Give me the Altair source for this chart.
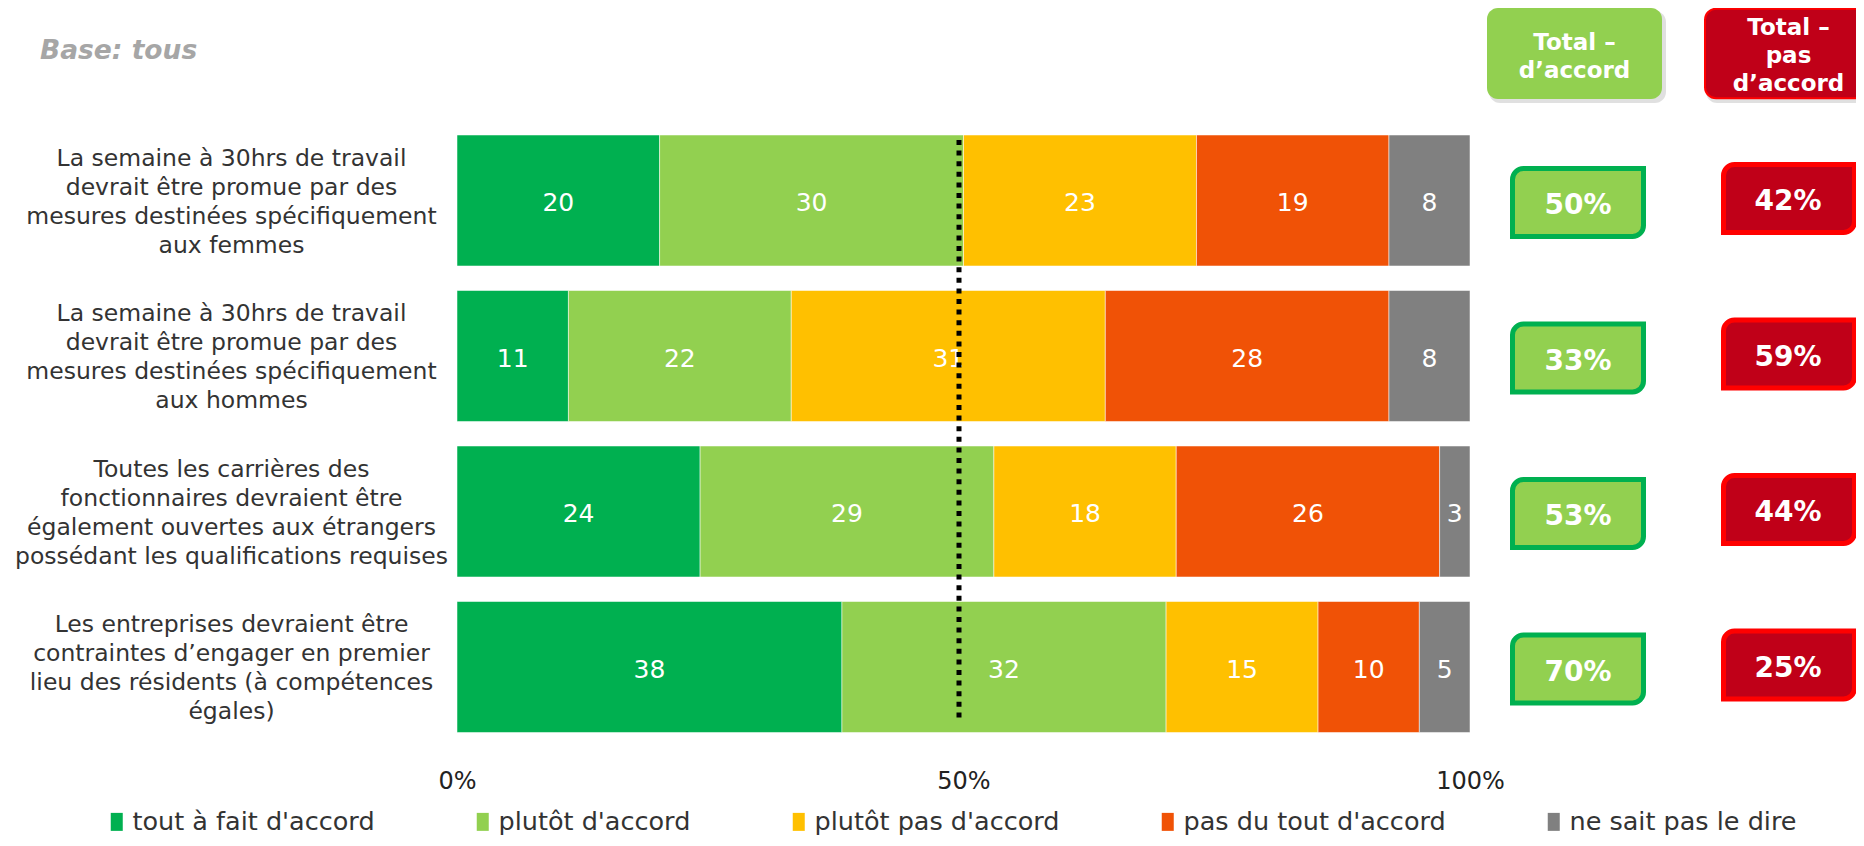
import altair as alt
import pandas as pd

# ---------------- data ----------------
rows = [
    "La semaine à 30hrs de travail|devrait être promue par des|mesures destinées spécifiquement|aux femmes",
    "La semaine à 30hrs de travail|devrait être promue par des|mesures destinées spécifiquement|aux hommes",
    "Toutes les carrières des|fonctionnaires devraient être|également ouvertes aux étrangers|possédant les qualifications requises",
    "Les entreprises devraient être|contraintes d’engager en premier|lieu des résidents (à compétences|égales)",
]
categories = ["tout à fait d'accord", "plutôt d'accord", "plutôt pas d'accord",
              "pas du tout d'accord", "ne sait pas le dire"]
tout_a_fait = [20, 11, 24, 38]
plutot = [30, 22, 29, 32]
plutot_pas = [23, 31, 18, 15]
pas_du_tout = [19, 28, 26, 10]
ne_sait_pas = [8, 8, 3, 5]
total_accord = [50, 33, 53, 70]
total_pas = [42, 59, 44, 25]
x_ticks = [0, 50, 100]
colors = ["#00b050", "#92d050", "#ffc000", "#f05206", "#808080"]

series = [tout_a_fait, plutot, plutot_pas, pas_du_tout, ne_sait_pas]
recs = []
for ci, (cat, vals) in enumerate(zip(categories, series)):
    for r, v in zip(rows, vals):
        recs.append({"row": r, "cat": cat, "idx": ci, "value": v})
df = pd.DataFrame(recs)

df_tot = pd.DataFrame({
    "row": rows,
    "acc": [f"{v}%" for v in total_accord],
    "pas": [f"{v}%" for v in total_pas],
})
one = pd.DataFrame({"k": [0]})

FONT = "DejaVu Sans"
W, H = 1013, 622

y_enc = alt.Y(
    "row:N", sort=rows,
    scale=alt.Scale(paddingInner=0.1576, paddingOuter=0.0788),
    axis=alt.Axis(
        title=None, labelExpr="split(datum.label, '|')", labelAlign="center",
        labelPadding=226, labelFontSize=23.5, labelLineHeight=29, labelColor="#333333",
        labelFont=FONT, domain=False, ticks=False, labelBaseline="middle", labelLimit=2000,
        labelOffset=-42,
    ),
)

sym = "M-0.667,-1L0.667,-1L0.667,1L-0.667,1Z"

base = alt.Chart(df).transform_stack(
    stack="value", groupby=["row"], sort=[alt.SortField("idx")], as_=["x0", "x1"]
).transform_calculate(mid="(datum.x0 + datum.x1) / 2")

bars = base.mark_bar(stroke="#ffffff", strokeWidth=1, strokeOpacity=0.5).encode(
    x=alt.X("x0:Q", scale=alt.Scale(domain=[0, 100], nice=False),
            axis=alt.Axis(values=x_ticks, labelExpr="datum.value + '%'", domain=False,
                          ticks=False, tickSize=0, grid=False, labelFontSize=24,
                          labelPadding=37, labelBaseline="middle", labelColor="#222222",
                          labelFont=FONT, title=None, labelFlush=False)),
    x2="x1:Q",
    y=y_enc,
    color=alt.Color("cat:N", scale=alt.Scale(domain=categories, range=colors),
                    legend=alt.Legend(orient="none", legendX=-353, legendY=686,
                                      direction="horizontal", columns=5, columnPadding=95,
                                      symbolType=sym, symbolSize=324, symbolStrokeWidth=0,
                                      symbolOpacity=1, labelFontSize=25.5, labelColor="#333333",
                                      labelFont=FONT, title=None, labelOffset=3, padding=0,
                                      labelLimit=2000)),
    order=alt.Order("idx:Q"),
)

labels = base.mark_text(color="white", fontSize=25, font=FONT, baseline="middle",
                        align="center", dy=2.5).encode(
    x=alt.X("mid:Q"), y=alt.Y("row:N", sort=rows), text="value:Q")

dotted = alt.Chart(one).mark_rule(color="black", strokeWidth=5, strokeDash=[5, 5.6]).encode(
    x=alt.value(502), y=alt.value(17.25), y2=alt.value(599.25))

# header boxes
hdr_shadow = alt.Chart(one).mark_rect(color="#000000", opacity=0.12, cornerRadius=11).encode(
    x=alt.value(1032), x2=alt.value(1209), y=alt.value(-111.75), y2=alt.value(-19.75))
hdr_green = alt.Chart(one).mark_rect(color="#92d050", cornerRadius=11).encode(
    x=alt.value(1030), x2=alt.value(1205), y=alt.value(-114.75), y2=alt.value(-23.75))
hdr_red_shadow = alt.Chart(one).mark_rect(color="#000000", opacity=0.12, cornerRadius=11).encode(
    x=alt.value(1249), x2=alt.value(1420), y=alt.value(-111.75), y2=alt.value(-19.75))
hdr_red = alt.Chart(one).mark_rect(fill="#c00018", stroke="#ff0000", strokeWidth=2,
                                   cornerRadius=11).encode(
    x=alt.value(1248), x2=alt.value(1420), y=alt.value(-114), y2=alt.value(-24.5))
hdr_green_txt = alt.Chart(one).mark_text(
    text=["Total –", "d’accord"], lineHeight=28, fontSize=23, fontWeight="bold", font=FONT,
    color="white", align="center", baseline="middle").encode(
    x=alt.value(1117.5), y=alt.value(-79.5))
hdr_red_txt = alt.Chart(one).mark_text(
    text=["Total –", "pas", "d’accord"], lineHeight=28, fontSize=23, fontWeight="bold", font=FONT,
    color="white", align="center", baseline="middle").encode(
    x=alt.value(1331.5), y=alt.value(-94.5))

base_txt = alt.Chart(one).mark_text(
    text="Base: tous", fontSize=26.5, fontWeight="bold", fontStyle="italic", font=FONT,
    color="#a6a6a6", align="left", baseline="middle").encode(
    x=alt.value(-417), y=alt.value(-71.5))

# total value boxes
tot = alt.Chart(df_tot)
acc_box = tot.mark_bar(height=68, fill="#92d050", stroke="#00b050", strokeWidth=5,
                       cornerRadiusTopLeft=11, cornerRadiusBottomRight=11, yOffset=2).encode(
    x=alt.value(1055.5), x2=alt.value(1186.5), y=alt.Y("row:N", sort=rows))
acc_txt = tot.mark_text(fontSize=28, fontWeight="bold", font=FONT, color="white",
                        align="center", baseline="middle", yOffset=5.5).encode(
    x=alt.value(1121), y=alt.Y("row:N", sort=rows), text="acc:N")
pas_box = tot.mark_bar(height=68, fill="#c00018", stroke="#ff0000", strokeWidth=5,
                       cornerRadiusTopLeft=11, cornerRadiusBottomRight=11, yOffset=-2).encode(
    x=alt.value(1266.5), x2=alt.value(1397.5), y=alt.Y("row:N", sort=rows))
pas_txt = tot.mark_text(fontSize=28, fontWeight="bold", font=FONT, color="white",
                        align="center", baseline="middle", yOffset=1.5).encode(
    x=alt.value(1331), y=alt.Y("row:N", sort=rows), text="pas:N")

chart = alt.layer(
    bars, labels, dotted,
    hdr_shadow, hdr_green, hdr_red_shadow, hdr_red, hdr_green_txt, hdr_red_txt, base_txt,
    acc_box, acc_txt, pas_box, pas_txt,
).properties(
    width=W, height=H,
    autosize=alt.AutoSizeParams(type="none"),
    padding={"left": 449, "top": 114.75, "right": 386, "bottom": 93.25},
).configure(font=FONT).configure_view(stroke="transparent", strokeWidth=0)

chart.save("out.html", embed_options={"renderer": "svg", "actions": False})
